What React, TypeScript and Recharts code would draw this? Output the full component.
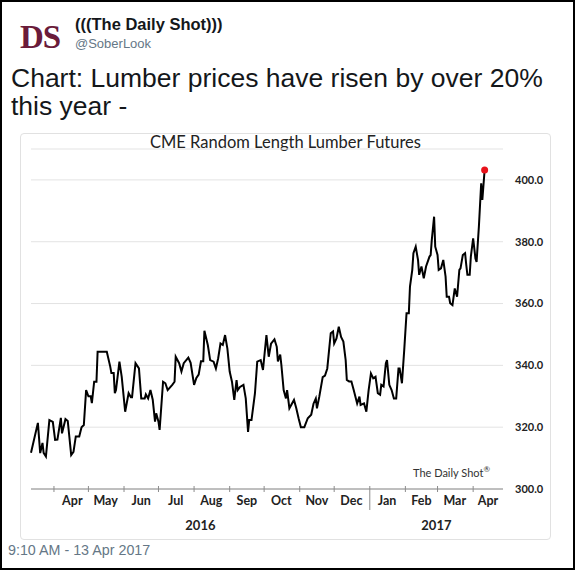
import { CartesianGrid, Line, LineChart, XAxis, YAxis } from 'recharts'

// days since 2016-04-01
const days = [
  -20, -14, -12, -10, -9, -7, -4, -1, 1, 3, 6, 7, 10, 12, 15, 17, 19, 22, 24, 26,
  28, 30, 32, 33, 35, 37, 38, 46, 49, 50, 52, 53, 54, 57, 59, 62, 65, 67, 68, 71,
  74, 76, 79, 80, 82, 84, 86, 88, 89, 91, 92, 95, 97, 99, 103, 105, 106, 109, 111, 113,
  117, 119, 122, 124, 126, 128, 130, 131, 134, 136, 139, 141, 143, 145, 147, 149, 151, 153, 155, 157,
  159, 160, 162, 165, 167, 169, 170, 172, 175, 177, 180, 182, 183, 185, 187, 189, 192, 194, 195, 197,
  198, 200, 202, 203, 205, 209, 211, 213, 215, 218, 221, 224, 226, 228, 229, 231, 234, 236, 238, 241,
  243, 244, 246, 248, 250, 252, 254, 255, 257, 259, 261, 264, 266, 267, 270, 272, 274, 276, 278, 280,
  282, 284, 285, 287, 289, 290, 292, 294, 296, 298, 300, 301, 303, 305, 307, 309, 310, 312, 313, 315,
  317, 318, 320, 322, 324, 327, 328, 329, 331, 332, 334, 335, 337, 339, 341, 342, 344, 345, 347, 349,
  351, 353, 354, 356, 358, 359, 360, 362, 363, 365, 367, 368, 370, 372, 373, 375,
]

const prices = [
  311.7, 321.4, 311.6, 314.9, 311.7, 310.5, 322.3, 321.7, 315.9, 316, 323, 318, 322.6, 322, 311, 312, 317, 317, 320, 320.7,
  332, 330, 330, 327.8, 334.7, 334.7, 344.4, 344.4, 339.6, 337.5, 337.5, 331, 332, 341.2, 336.3, 325, 331, 329.7, 329.7, 340.7,
  339, 329.3, 329.3, 330.6, 329.3, 332, 328.9, 321.8, 324.5, 321.8, 319.1, 334.7, 334.2, 332, 333.7, 334.7, 342.8, 340.7, 338, 340.7,
  342.5, 340.8, 333.7, 335.9, 337, 341.3, 341.3, 351.2, 346.5, 341.7, 341.2, 339, 342.3, 347.1, 346.6, 349.8, 345.4, 338, 334.7, 328.8,
  335.2, 332, 333, 333.7, 329.3, 318.5, 322.3, 322.3, 330.9, 341.2, 341.7, 338.5, 342.3, 349.8, 342.8, 347, 348.4, 346, 341.3, 343.5,
  340.2, 332, 329.3, 332, 326.1, 328.8, 326.1, 322.9, 320, 320, 322.9, 324, 327.6, 329.3, 326.1, 329.8, 336.2, 336.7, 339, 350.4,
  351, 347.1, 348.7, 352.5, 349.2, 347.7, 341.7, 335.3, 334.8, 334.8, 332, 327.7, 329.9, 327.2, 327.7, 325, 332, 337.4, 335.8, 336.3,
  331, 330.5, 333.7, 333.2, 340.7, 341.7, 333.7, 332, 329.3, 329.3, 339, 339, 334.2, 345, 356.9, 356.9, 365.5, 370.9, 376.3, 378.4,
  374.1, 369.3, 372, 368.2, 372, 375.2, 375.7, 380.6, 388.1, 378.4, 375.7, 370.9, 371.4, 374.1, 368.7, 362.2, 362.2, 360.1, 359.5, 364.9,
  362.2, 370.9, 371.4, 375.7, 376.3, 372.5, 369.3, 369.3, 375.2, 381.1, 374.6, 373.5, 384.9, 398.9, 393.5, 403.2,
]

const monthStarts = [0, 30, 61, 91, 122, 153, 183, 214, 244, 275, 306, 334, 365]
const monthMids = [16, 45, 76, 106, 137, 168, 198, 229, 259, 290, 320, 349, 378]
const monthLabels = ['Apr', 'May', 'Jun', 'Jul', 'Aug', 'Sep', 'Oct', 'Nov', 'Dec', 'Jan', 'Feb', 'Mar', 'Apr']
const yearLabels = ['2016', '2017']
const priceTicks = [300, 320, 340, 360, 380, 400]

const xMin = -20
const xMax = 391
const yearBreak = 275
const yearMids = [(xMin + yearBreak) / 2, (yearBreak + xMax) / 2]

const series = days.map((day, i) => ({ day, price: prices[i] }))
const lastIndex = series.length - 1

const chartFont = 'Lato, "Open Sans", sans-serif'
const tweetFont = '"Liberation Sans", Arial, sans-serif'

function DateTick(props: any) {
  const { x, y, payload } = props
  const v = payload.value
  const mi = monthMids.indexOf(v)
  if (mi >= 0) {
    return (
      <text x={x} y={y + 16} textAnchor="middle" fontSize={12.5} fontWeight="bold" fill="#222" fontFamily={chartFont}>
        {monthLabels[mi]}
      </text>
    )
  }
  const yi = yearMids.indexOf(v)
  if (yi >= 0) {
    return (
      <text x={x} y={y + 41} textAnchor="middle" fontSize={13} fontWeight="bold" fill="#222" fontFamily={chartFont}>
        {yearLabels[yi]}
      </text>
    )
  }
  if (v === yearBreak) {
    return <line x1={x} x2={x} y1={y - 3} y2={y + 21} stroke="#8c8c8c" strokeWidth={1} />
  }
  return <line x1={x} x2={x} y1={y - 3} y2={y + 3} stroke="#8c8c8c" strokeWidth={1} />
}

export default function App() {
  const xTicks = [...monthStarts, ...monthMids, ...yearMids].sort((a, b) => a - b)

  return (
    <div
      style={{
        position: 'relative',
        width: 575,
        height: 570,
        boxSizing: 'border-box',
        border: '2px solid #000',
        background: '#fff',
        overflow: 'hidden',
      }}
    >
      <style>{'body{margin:0}'}</style>

      <div
        style={{
          position: 'absolute', left: 18, top: 19, fontFamily: '"Liberation Serif", serif',
          fontWeight: 'bold', fontSize: 33, lineHeight: 1, color: '#6a1b3a', letterSpacing: -1,
        }}
      >
        DS
      </div>
      <div
        style={{
          position: 'absolute', left: 73, top: 14, fontFamily: tweetFont, fontWeight: 'bold',
          fontSize: 16.5, lineHeight: 1, color: '#14171a',
        }}
      >
        (((The Daily Shot)))
      </div>
      <div style={{ position: 'absolute', left: 73, top: 35, fontFamily: tweetFont, fontSize: 13, lineHeight: 1, color: '#657786' }}>
        @SoberLook
      </div>
      <div
        style={{
          position: 'absolute', left: 9, top: 62, fontFamily: tweetFont, fontSize: 26.5, lineHeight: '28px',
          color: '#14171a', whiteSpace: 'nowrap',
        }}
      >
        Chart: Lumber prices have risen by over 20%
        <br />
        this year -
      </div>

      <div
        style={{
          position: 'absolute', left: 18, top: 131, width: 529, height: 405,
          border: '1px solid #e1e1e1', borderRadius: 4,
        }}
      />
      <div
        style={{
          position: 'absolute', left: 18, top: 132, width: 531, textAlign: 'center', fontFamily: chartFont,
          fontSize: 16.5, lineHeight: 1, color: '#222',
        }}
      >
        CME Random Length Lumber Futures
      </div>

      <div style={{ position: 'absolute', left: 18, top: 132 }}>
        <LineChart width={529} height={405} data={series} margin={{ top: 15, right: 6, bottom: 0, left: 11 }}>
          <CartesianGrid horizontal vertical={false} stroke="#e3e3e3" />
          <XAxis
            dataKey="day"
            type="number"
            domain={[xMin, xMax]}
            ticks={xTicks}
            interval={0}
            height={50}
            tickSize={0}
            tickMargin={0}
            tickLine={false}
            axisLine={{ stroke: '#8c8c8c' }}
            tick={<DateTick />}
          />
          <YAxis
            orientation="right"
            domain={[300, 410]}
            ticks={priceTicks}
            width={40}
            tickSize={0}
            tickMargin={12}
            axisLine={false}
            tickLine={false}
            tickFormatter={(v: number) => v.toFixed(1)}
            tick={{ fontSize: 11, fontWeight: 'bold', fill: '#222', fontFamily: chartFont }}
          />
          <Line
            type="linear"
            dataKey="price"
            stroke="#000"
            strokeWidth={2}
            isAnimationActive={false}
            dot={(p: any) =>
              p.index === lastIndex ? (
                <circle key={p.index} cx={p.cx} cy={p.cy} r={3.5} fill="#e8121b" stroke="none" />
              ) : (
                <g key={p.index} />
              )
            }
            activeDot={false}
          />
        </LineChart>
      </div>

      <div
        style={{
          position: 'absolute', left: 411, top: 465, fontFamily: chartFont, fontSize: 11, lineHeight: 1,
          color: '#333', whiteSpace: 'nowrap',
        }}
      >
        The Daily Shot<span style={{ fontSize: 8, verticalAlign: 'super', lineHeight: 0 }}>®</span>
      </div>

      <div style={{ position: 'absolute', left: 6, top: 541, fontFamily: tweetFont, fontSize: 14.3, lineHeight: 1, color: '#657786' }}>
        9:10 AM - 13 Apr 2017
      </div>
    </div>
  )
}
